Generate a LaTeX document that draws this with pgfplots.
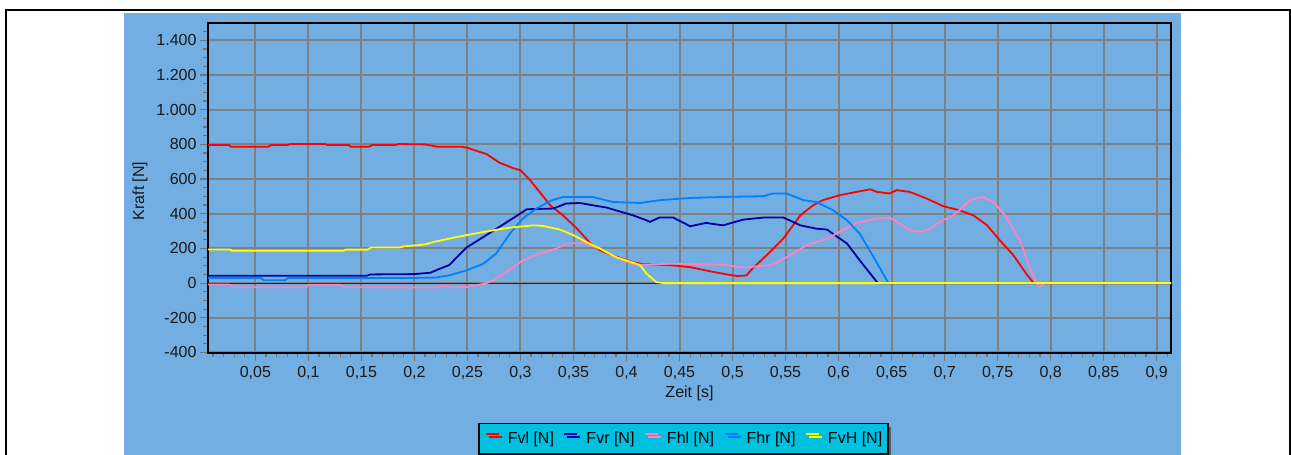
\documentclass[border=0pt]{standalone}
\usepackage{fontspec}
\setmainfont{Liberation Sans}
\usepackage{pgfplots}
\usepackage{pgfplotstable}
\pgfplotsset{compat=1.18}
\usetikzlibrary{shadows}
\definecolor{bgblue}{RGB}{114,174,226}
\definecolor{legcyan}{RGB}{0,192,224}
\definecolor{cFvl}{RGB}{255,0,0}
\definecolor{cFvr}{RGB}{0,0,160}
\definecolor{cFhl}{RGB}{255,128,192}
\definecolor{cFhr}{RGB}{0,128,255}
\definecolor{cFvH}{RGB}{255,255,0}
\definecolor{gridgray}{RGB}{128,128,128}
\newcommand\fs{\fontsize{16}{19}\selectfont}

\pgfplotstableread{
x y
0.0053 796
0.025 796
0.027 786
0.062 786
0.065 796
0.080 796
0.083 802
0.116 802
0.118 796
0.138 796
0.140 786
0.157 786
0.160 796
0.182 796
0.185 802
0.210 800
0.222 786
0.245 786
0.250 780
0.268 744
0.280 695
0.293 663
0.300 651
0.309 594
0.318 526
0.328 449
0.340 391
0.353 316
0.366 229
0.375 189
0.387 160
0.406 121
0.413 112
0.444 102
0.460 92
0.475 73
0.491 54
0.504 41
0.513 44
0.519 85
0.532 160
0.548 258
0.564 391
0.576 449
0.585 478
0.601 507
0.617 526
0.630 541
0.636 526
0.648 517
0.655 536
0.667 526
0.683 488
0.699 443
0.714 420
0.727 391
0.740 334
0.752 247
0.765 160
0.777 54
0.784 0
0.9135 0
}\Fvl

\pgfplotstableread{
x y
0.0053 42
0.155 42
0.158 50
0.200 52
0.215 60
0.224 83
0.233 105
0.249 205
0.265 266
0.280 324
0.296 386
0.306 426
0.331 430
0.343 459
0.356 462
0.368 449
0.381 436
0.406 391
0.419 362
0.422 353
0.431 378
0.444 378
0.460 328
0.475 347
0.491 333
0.510 366
0.529 378
0.548 378
0.564 333
0.579 314
0.589 309
0.608 228
0.620 131
0.630 54
0.637 0
0.9135 0
}\Fvr

\pgfplotstableread{
x y
0.0053 -8
0.025 -8
0.030 -24
0.098 -24
0.100 -9
0.130 -9
0.135 -24
0.220 -25
0.230 -18
0.235 -25
0.250 -22
0.262 -8
0.268 0
0.275 16
0.280 40
0.293 92
0.302 131
0.318 170
0.334 199
0.343 228
0.359 231
0.375 199
0.390 150
0.406 112
0.413 106
0.444 112
0.491 106
0.510 89
0.523 97
0.538 106
0.554 160
0.570 218
0.589 257
0.601 295
0.617 347
0.636 372
0.648 378
0.658 343
0.667 305
0.677 295
0.686 314
0.699 366
0.705 378
0.714 420
0.724 478
0.736 497
0.746 468
0.758 382
0.771 247
0.780 92
0.787 0
0.790 -23
0.793 -3
0.796 0
0.9135 0
}\Fhl

\pgfplotstableread{
x y
0.0053 30
0.055 30
0.058 17
0.078 17
0.081 30
0.200 30
0.220 32
0.233 45
0.249 73
0.265 112
0.277 170
0.290 285
0.302 372
0.315 430
0.328 474
0.340 497
0.368 497
0.387 468
0.413 462
0.431 478
0.460 491
0.491 497
0.529 501
0.538 517
0.551 517
0.567 478
0.579 468
0.595 420
0.608 362
0.620 285
0.633 150
0.647 0
0.9135 0
}\Fhr

\pgfplotstableread{
x y
0.0053 194
0.026 194
0.028 187
0.133 187
0.135 193
0.156 193
0.159 205
0.186 205
0.190 212
0.200 217
0.210 223
0.218 237
0.240 266
0.265 295
0.290 320
0.312 333
0.321 330
0.337 309
0.350 276
0.362 237
0.375 199
0.390 150
0.409 112
0.413 102
0.419 54
0.428 6
0.435 0
0.9135 0
}\FvH

\begin{document}
\begin{tikzpicture}[x=1pt,y=1pt]
\useasboundingbox (0,0) rectangle (1291,455);
\fill[white] (0,0) rectangle (1291,455);
\draw[line width=2pt] (6,-20) -- (6,445) -- (1290,445) -- (1290,-20);
\fill[bgblue] (124,-5) rectangle (1181,442);
\begin{axis}[
  at={(208pt,102pt)}, anchor=south west,
  scale only axis, width=963pt, height=330pt,
  xmin=0.0053, xmax=0.9135, ymin=-403, ymax=1500,
  axis line style={black, line width=2.5pt},
  tick pos=left, tick align=outside,
  major tick length=8pt, minor tick length=4.5pt,
  tick style={black!55, line width=1.2pt},
  xmajorgrids, ymajorgrids,
  major grid style={gridgray, line width=2pt},
  xtick={0.05,0.1,0.15,0.2,0.25,0.3,0.35,0.4,0.45,0.5,0.55,0.6,0.65,0.7,0.75,0.8,0.85,0.9},
  xticklabels={{0,05},{0,1},{0,15},{0,2},{0,25},{0,3},{0,35},{0,4},{0,45},{0,5},{0,55},{0,6},{0,65},{0,7},{0,75},{0,8},{0,85},{0,9}},
  minor xtick={0.01,0.02,0.03,0.04,0.06,0.07,0.08,0.09,0.11,0.12,0.13,0.14,0.16,0.17,0.18,0.19,0.21,0.22,0.23,0.24,0.26,0.27,0.28,0.29,0.31,0.32,0.33,0.34,0.36,0.37,0.38,0.39,0.41,0.42,0.43,0.44,0.46,0.47,0.48,0.49,0.51,0.52,0.53,0.54,0.56,0.57,0.58,0.59,0.61,0.62,0.63,0.64,0.66,0.67,0.68,0.69,0.71,0.72,0.73,0.74,0.76,0.77,0.78,0.79,0.81,0.82,0.83,0.84,0.86,0.87,0.88,0.89,0.91},
  ytick={-400,-200,0,200,400,600,800,1000,1200,1400},
  yticklabels={-400,-200,0,200,400,600,800,1.000,1.200,1.400},
  minor ytick={-350,-300,-250,-150,-100,-50,50,100,150,250,300,350,450,500,550,650,700,750,850,900,950,1050,1100,1150,1250,1300,1350,1450},
  tick label style={font=\fs, text=black!90},
  xticklabel style={yshift=-2pt},
  xlabel={Zeit [s]}, ylabel={Kraft [N]},
  label style={font=\fs, text=black!90},
  xlabel style={at={(axis description cs:0.5,-0.1212)}, anchor=center},
  ylabel style={at={(axis description cs:-0.0706,0.491)}, anchor=center},
  legend columns=5,
  legend cell align=left,
  legend image code/.code={\draw[#1, line width=2pt] (0pt,4.5pt) -- (13pt,4.5pt);},
  legend style={at={(0.2804,-0.2121)}, anchor=north west, fill=legcyan,
    draw=black, line width=1.5pt, font=\fs, text=black,
    inner xsep=6pt, inner ysep=6.5pt,
    nodes={inner xsep=0pt, inner ysep=2pt},
    drop shadow={shadow xshift=3pt, shadow yshift=-3pt, fill=black!65, opacity=1},
    /tikz/every odd column/.append style={column sep=8pt},
    /tikz/every even column/.append style={column sep=9.5pt}},
  every axis plot/.append style={line width=1.8pt},
]
\addplot[black!85, line width=1.2pt, forget plot] coordinates {(0.0053,0) (0.9135,0)};
\addplot[cFvl] table[x=x,y=y] {\Fvl};
\addplot[cFvr] table[x=x,y=y] {\Fvr};
\addplot[cFhl] table[x=x,y=y] {\Fhl};
\addplot[cFhr] table[x=x,y=y] {\Fhr};
\addplot[cFvH] table[x=x,y=y] {\FvH};
\legend{Fvl [N], Fvr [N], Fhl [N], Fhr [N], FvH [N]}
\end{axis}
\end{tikzpicture}
\end{document}
